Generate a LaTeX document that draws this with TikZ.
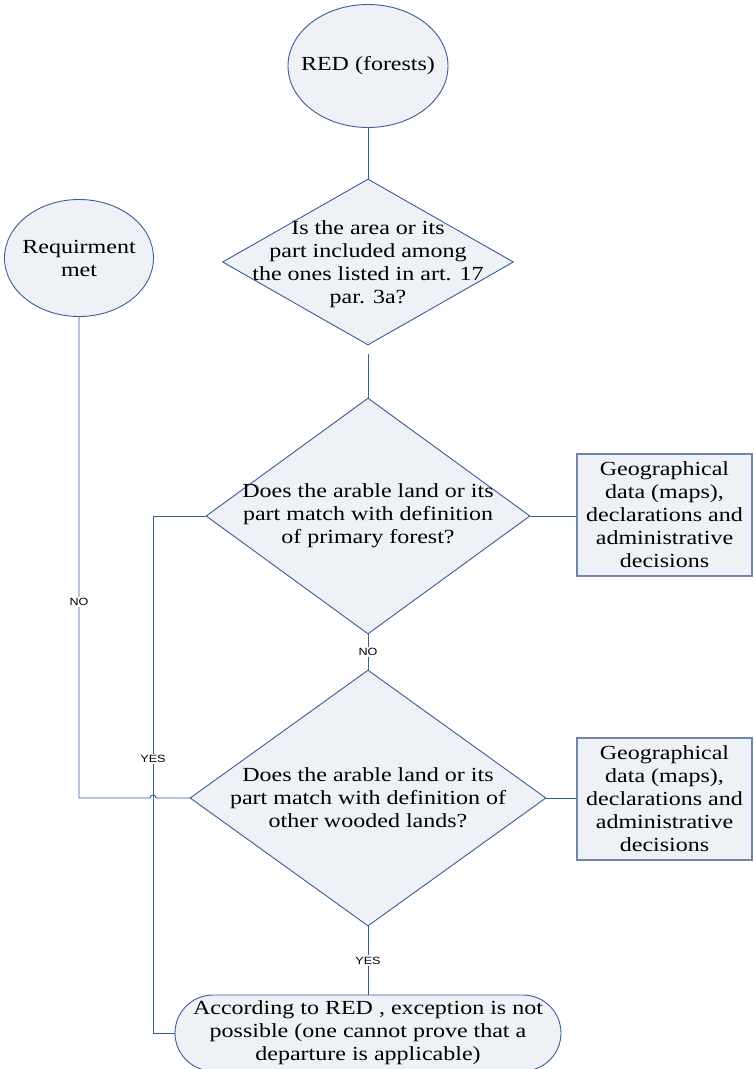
\documentclass[tikz,border=0pt]{standalone}
\usepackage{fontspec}
\setmainfont{Liberation Serif}[FakeStretch=1.2]
\newfontfamily\labelfont{Liberation Sans}[FakeStretch=1.2]
\usetikzlibrary{shapes.geometric}
\definecolor{flowline}{HTML}{3A5D96}
\definecolor{flowfill}{HTML}{EEF1F6}
\definecolor{boxline}{HTML}{7185AA}
\tikzset{
  qtext/.style={align=center, inner sep=0pt, font=\fontsize{20}{23}\selectfont},
  terminal/.style={ellipse, draw=flowline, fill=flowfill, line width=0.9pt, inner sep=0pt},
  decision/.style={diamond, draw=flowline, fill=flowfill, line width=0.9pt, inner sep=0pt},
  sourcebox/.style={rectangle, draw=boxline, fill=flowfill, line width=1.3pt, inner sep=0pt,
    minimum width=175pt, minimum height=122pt, qtext},
  outcome/.style={rectangle, rounded corners=38pt, draw=flowline, fill=flowfill, line width=0.9pt,
    inner sep=0pt, minimum width=386pt, minimum height=76pt, qtext},
  flowlabel/.style={fill=white, inner sep=1.5pt, font=\labelfont\fontsize{10.5}{12}\selectfont},
}
\begin{document}
\begin{tikzpicture}[x=1pt, y=-1pt]
  \useasboundingbox (0,0) rectangle (753,1069);
  \node[terminal, minimum width=160pt, minimum height=123pt,
    label={[qtext]center:RED (forests)}] (red) at (368,66) {};
  \node[terminal, minimum width=149pt, minimum height=117pt,
    label={[qtext]center:Requirment\\met}] (req) at (79,258) {};
  \node[decision, minimum width=291pt, minimum height=166pt,
    label={[qtext, yshift=-2pt]center:Is the area or its\\part included among\\the ones listed in art. 17\\par. 3a?}] (d1) at (368,262) {};
  \node[decision, minimum width=324pt, minimum height=236pt,
    label={[qtext]center:Does the arable land or its\\part match with definition\\of primary forest?}] (d2) at (368,516) {};
  \node[decision, minimum width=356pt, minimum height=256pt,
    label={[qtext]center:Does the arable land or its\\part match with definition of\\other wooded lands?}] (d3) at (368,798) {};
  \node[sourcebox] (geo1) at (664.5,515) {Geographical\\data (maps),\\declarations and\\administrative\\decisions};
  \node[sourcebox] (geo2) at (664.5,799) {Geographical\\data (maps),\\declarations and\\administrative\\decisions};
  \node[outcome] (final) at (368,1033) {According to RED , exception is not\\possible (one cannot prove that a\\departure is applicable)};
  \coordinate (yesbend) at (153,516);
  \coordinate (nobend) at (79,798);
  \coordinate (hop) at (153,798);
  \begin{scope}[draw=flowline, line width=0.9pt]
    \draw (red) -- (d1);
    \draw[shorten <=9pt] (d1) -- (d2);
    \draw (d2) -- node[flowlabel]{NO} (d3);
    \draw (d3) -- node[flowlabel]{YES} (final);
    \draw (d2.east) -- (d2.east -| geo1.west);
    \draw (d3.east) -- (d3.east -| geo2.west);
    \draw (d2.west) -- (yesbend) -- node[flowlabel, pos=0.47]{YES} (yesbend |- final.west) -- (final.west);
    \draw (req) -- node[flowlabel, pos=0.593]{NO} (nobend) -- ([xshift=-3pt]hop)
      arc[start angle=180, end angle=0, radius=3pt] -- (d3.west);
  \end{scope}
\end{tikzpicture}
\end{document}
